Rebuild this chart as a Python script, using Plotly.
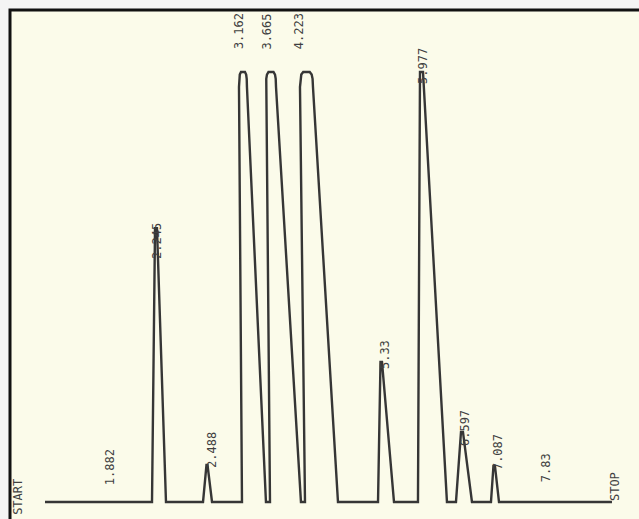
import plotly.graph_objects as go

# Baseline extent (minutes, chart scale)
baseline_start = 0.176
baseline_end = 8.859

# Peaks: left base, top-left, top-right, right base (minutes), height (% full scale)
peak_left_base = [1.815, 2.596, 3.193, 3.622, 4.158, 5.276, 5.888, 6.470, 7.006]
peak_top_left = [1.861, 2.649, 3.147, 3.560, 4.081, 5.314, 5.919, 6.547, 7.044]
peak_top_right = [1.891, 2.665, 3.269, 3.714, 4.280, 5.337, 5.965, 6.577, 7.067]
peak_right_base = [2.029, 2.734, 3.560, 4.096, 4.663, 5.521, 6.332, 6.715, 7.129]
peak_height = [63.7, 8.6, 100, 100, 100, 32.6, 100, 16.3, 8.4]
peak_clipped = [False, False, True, True, True, False, False, False, False]

# Printed labels: text, position (minutes), level (% full scale)
label_text = ["START", "1.882", "2.245", "2.488", "3.162", "3.665", "4.223",
              "5.33", "5.977", "6.597", "7.087", "7.83", "STOP"]
label_t = [-0.237, 1.172, 1.891, 2.734, 3.147, 3.583, 4.066,
           5.383, 5.965, 6.608, 7.113, 7.848, 8.905]
label_y = [1.2, 8.1, 60.7, 12.1, 109.5, 109.5, 109.5,
           34.4, 101.4, 17.2, 11.6, 8.1, 3.7]

xs = [baseline_start]
ys = [0]
for lb, tl, tr, rb, h, clip in zip(peak_left_base, peak_top_left, peak_top_right,
                                   peak_right_base, peak_height, peak_clipped):
    xs.append(lb); ys.append(0)
    if clip:
        w = tr - tl
        xs += [tl, tl + 0.03 * w, tl + 0.1 * w, tl + 0.25 * w, tr - 0.25 * w,
               tr - 0.1 * w, tr - 0.03 * w, tr]
        ys += [h - 3.5, h - 1.6, h - 0.6, h, h, h - 0.6, h - 1.6, h - 3.5]
    else:
        xs += [tl, tr]
        ys += [h, h]
    xs.append(rb); ys.append(0)
xs.append(baseline_end); ys.append(0)

fig = go.Figure()
fig.add_trace(go.Scatter(x=xs, y=ys, mode="lines",
                         line=dict(color="#363636", width=2.4),
                         hoverinfo="skip", showlegend=False))

for txt, t, yv in zip(label_text, label_t, label_y):
    fig.add_annotation(x=t, y=yv, text=txt, showarrow=False, textangle=-90,
                       font=dict(family="DejaVu Sans Mono", size=12, color="#404040"))

W, H = 639, 519
fig.add_shape(type="rect", xref="paper", yref="paper",
              x0=10 / W, x1=1.05, y0=-0.05, y1=1 - 10 / H,
              line=dict(color="#111111", width=3), fillcolor="#FBFBEA", layer="below")

fig.update_layout(width=W, height=H, margin=dict(l=0, r=0, t=0, b=0),
                  paper_bgcolor="#f4f4f4", plot_bgcolor="rgba(0,0,0,0)",
                  xaxis=dict(visible=False, range=[-0.513, 9.273], fixedrange=True),
                  yaxis=dict(visible=False, range=[-3.95, 116.74], fixedrange=True))

fig.write_html("out.html", config={"displayModeBar": False},
               post_script="document.body.style.margin='0';document.body.style.overflow='hidden';")
